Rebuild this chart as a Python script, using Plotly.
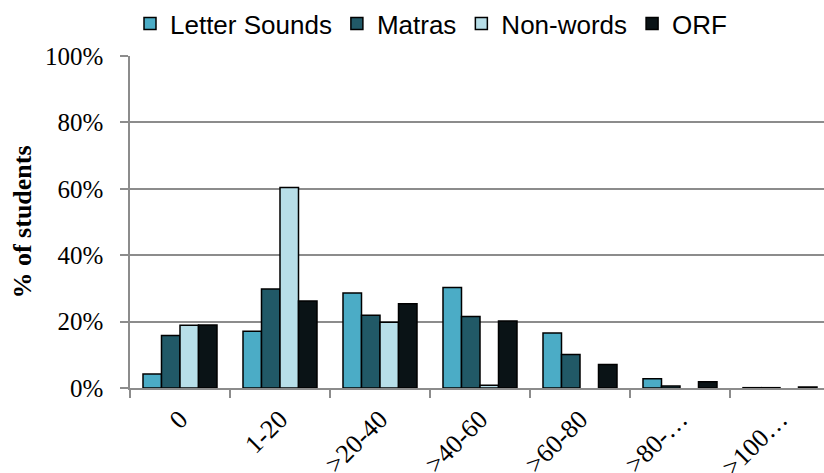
import plotly.graph_objects as go

# Score bands and share of students (%) in each band, per assessment
categories = ["0", "1-20", ">20-40", ">40-60", ">60-80", ">80-…", ">100…"]
letter_sounds = [4.2, 17.1, 28.6, 30.3, 16.6, 2.8, 0.1]
matras = [15.8, 29.8, 21.9, 21.5, 10.1, 0.6, 0.1]
non_words = [18.9, 60.4, 19.8, 0.8, 0.0, 0.0, 0.0]
orf = [19.0, 26.2, 25.4, 20.2, 7.1, 1.9, 0.3]

series = [
    ("Letter Sounds", letter_sounds, "#4bacc6"),
    ("Matras", matras, "#215967"),
    ("Non-words", non_words, "#b7dee8"),
    ("ORF", orf, "#0a1316"),
]

fig = go.Figure()
for name, vals, color in series:
    fig.add_trace(go.Bar(
        name=name,
        x=categories,
        y=[v / 100 for v in vals],
        marker=dict(
            color=color,
            line=dict(color="#000000", width=[1.5 if v > 0 else 0 for v in vals]),
        ),
    ))

grid_col = "#8c8c8c"
fig.update_layout(
    width=824, height=473,
    margin=dict(l=130, r=0, t=56, b=85, autoexpand=False),
    paper_bgcolor="white", plot_bgcolor="white",
    barmode="group", bargap=0.26, bargroupgap=0,
    font=dict(family="Liberation Serif", size=25, color="#000000"),
    showlegend=True,
    legend=dict(
        orientation="h", x=0.0, xanchor="left", y=1.0, yanchor="top",
        yref="container",
        font=dict(family="Liberation Sans", size=26, color="#000000"),
        traceorder="normal", bgcolor="rgba(0,0,0,0)",
    ),
    xaxis=dict(
        range=[-0.5, 6.44],
        showline=True, linecolor=grid_col, linewidth=1.5,
        ticks="outside", tickson="boundaries", ticklen=8, tickwidth=1.5, tickcolor=grid_col,
        tickangle=-45, showgrid=False,
        ticklabelstandoff=4,
        tickfont=dict(family="Liberation Serif", size=26),
    ),
    yaxis=dict(
        range=[0, 1], tickvals=[0, 0.2, 0.4, 0.6, 0.8, 1.0], tickformat=".0%",
        showline=True, linecolor=grid_col, linewidth=1.5,
        ticks="outside", ticklen=8, tickwidth=1.5, tickcolor=grid_col,
        showgrid=True, gridcolor=grid_col, gridwidth=1.5,
        ticklabelstandoff=12,
        tickfont=dict(family="Liberation Serif", size=25),
        title=dict(text="<b>% of students</b>", font=dict(family="Liberation Serif", size=26), standoff=6),
        zeroline=False,
    ),
)

fig.write_html("out.html")
